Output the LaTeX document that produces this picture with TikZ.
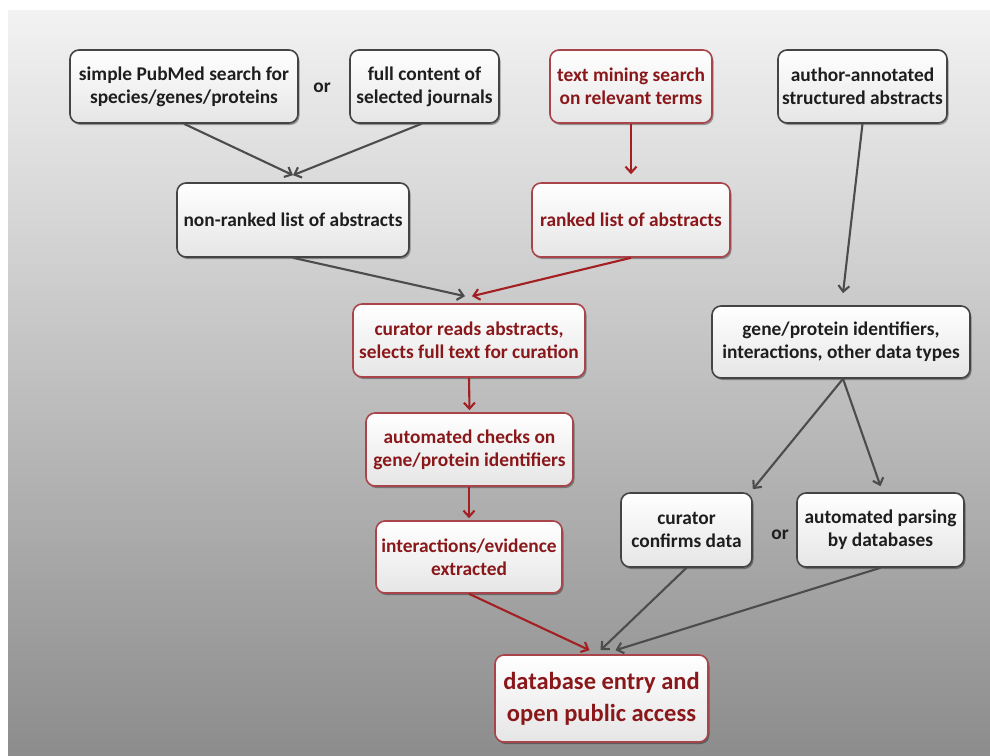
\documentclass[tikz,border=0pt]{standalone}
\usepackage{fontspec}
\setmainfont{Carlito}
\usetikzlibrary{arrows.meta,shadows}
\definecolor{bdgray}{HTML}{444444}
\definecolor{txgray}{HTML}{1E1E1E}
\definecolor{bdred}{HTML}{A8444A}
\definecolor{txred}{HTML}{8A181B}
\definecolor{arred}{HTML}{A31F22}
\definecolor{argray}{HTML}{4C4C4C}
\tikzset{
 box/.style={draw=bdgray, line width=1.6pt, rounded corners=9pt, top color=white, bottom color=black!10,
   text=txgray, font=\fontsize{19.4}{23}\selectfont\bfseries, align=center, inner sep=0pt,
   drop shadow={shadow xshift=1.5pt, shadow yshift=-2pt, opacity=0.35, fill=black}},
 rbox/.style={box, draw=bdred, text=txred},
 garr/.style={draw=argray, line width=2.1pt, -{Straight Barb[length=6pt,width=11pt]}},
 rarr/.style={garr, draw=arred},
 ortext/.style={font=\fontsize{19.4}{23}\selectfont\bfseries, text=txgray},
}
\begin{document}
\begin{tikzpicture}[x=1pt,y=1pt]
\path[use as bounding box] (0,0) rectangle (990,-755);
\fill[top color=black!5, bottom color=black!45] (8,-10) rectangle (990,-755);

\node[box, minimum width=228pt, minimum height=73pt] (pub) at (184,-86.5) {simple PubMed search for\\species/genes/proteins};
\node[ortext] (or1) at (322,-88) {or};
\node[box, minimum width=149pt, minimum height=73pt] (jour) at (424.5,-86.5) {full content of\\selected journals};
\node[rbox, minimum width=162pt, minimum height=73pt] (tm) at (631,-86.5) {text mining search\\on relevant terms};
\node[box, minimum width=169pt, minimum height=73pt] (auth) at (862.5,-86.5) {author-annotated\\structured abstracts};

\node[box, minimum width=232pt, minimum height=74pt] (nr) at (293,-220) {non-ranked list of abstracts};
\node[rbox, minimum width=198pt, minimum height=74pt] (ranked) at (631,-220) {ranked list of abstracts};

\node[rbox, minimum width=232pt, minimum height=73pt] (cr) at (469,-340.5) {curator reads abstracts,\\selects full text for curation};
\node[box, minimum width=258pt, minimum height=72pt] (gp) at (841,-342) {gene/protein identifiers,\\interactions, other data types};
\node[rbox, minimum width=207pt, minimum height=73pt] (ac) at (469.5,-449.5) {automated checks on\\gene/protein identifiers};
\node[rbox, minimum width=186pt, minimum height=72pt] (ie) at (469,-557) {interactions/evidence\\extracted};
\node[box, minimum width=131pt, minimum height=74pt] (cc) at (686.5,-530) {curator\\confirms data};
\node[ortext] (or2) at (780,-535) {or};
\node[box, minimum width=167pt, minimum height=74pt] (ap) at (880.5,-530) {automated parsing\\by databases};
\node[rbox, minimum width=213pt, minimum height=87pt, font=\fontsize{24.5}{32}\selectfont\bfseries] (db) at (601.5,-698.5) {database entry and\\open public access};

\draw[garr] (pub.south) -- ([yshift=7pt]nr.north);
\draw[garr] ([xshift=-3pt]jour.south) -- ([yshift=7pt]nr.north);
\draw[rarr] (tm.south) -- ([yshift=8pt]ranked.north);
\draw[garr] (nr.south) -- ([xshift=-4pt,yshift=7pt]cr.north);
\draw[rarr] (ranked.south) -- ([xshift=3pt,yshift=7pt]cr.north);
\draw[garr] (auth.south) -- ([xshift=2pt,yshift=12pt]gp.north);
\draw[rarr] (cr.south) -- ([yshift=2pt]ac.north);
\draw[rarr] ([xshift=-0.5pt]ac.south) -- ([yshift=2pt]ie.north);
\draw[garr] ([xshift=2pt]gp.south) -- ([yshift=3pt]cc.north east);
\draw[garr] ([xshift=2pt]gp.south) -- ([yshift=6pt]ap.north);
\draw[rarr] (ie.south) -- ([xshift=-12pt,yshift=4pt]db.north);
\draw[garr] (cc.south) -- ([xshift=-1pt,yshift=4pt]db.north);
\draw[garr] (ap.south) -- ([xshift=14pt,yshift=4pt]db.north);
\end{tikzpicture}
\end{document}
